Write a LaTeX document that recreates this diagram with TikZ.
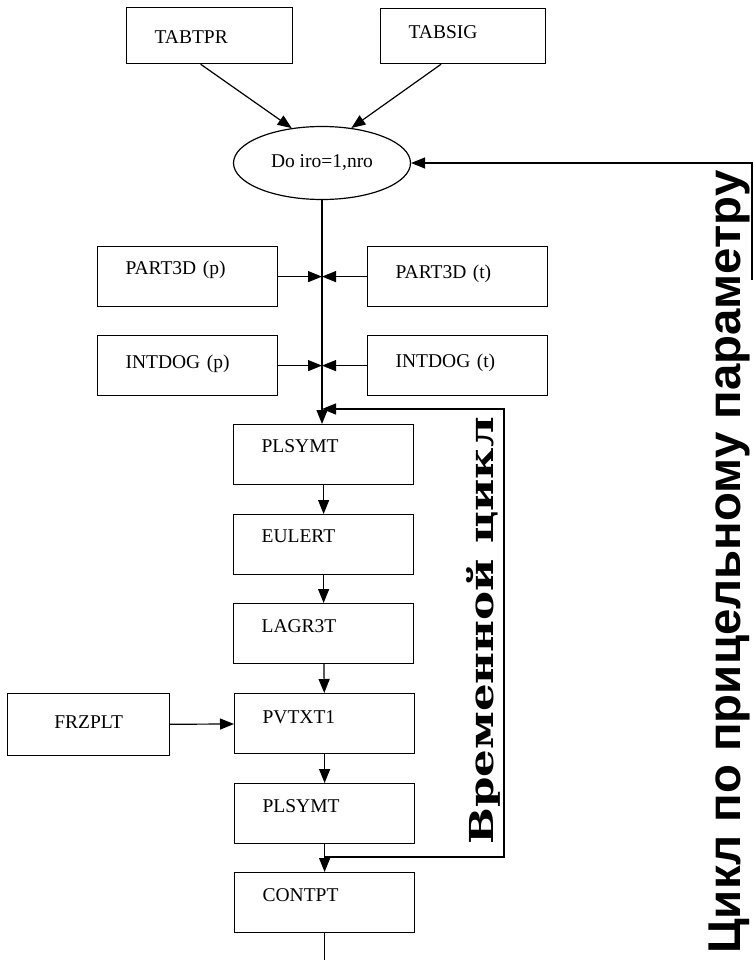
\documentclass[tikz,border=0pt]{standalone}
\usepackage{fontspec}
\setmainfont{Liberation Serif}
\newfontfamily\schemeLoopFont{DejaVu Serif}
\newfontfamily\schemeOuterFont{Liberation Sans}
\usetikzlibrary{arrows.meta,shapes.geometric}
\newcommand{\schemeBoxFont}{\fontsize{19.5}{22}\selectfont}

\tikzset{
  blk/.style={draw, line width=1.2pt, anchor=north west, minimum width=180pt,
    text width=124pt, inner xsep=28pt, inner ysep=0pt, align=left,
    text height=29pt, text depth=31pt, font=\schemeBoxFont},
  arr/.style={line width=1.2pt, -{Triangle[length=14pt,width=11pt]}},
  lnk/.style={line width=1.2pt}
}

\begin{document}
\begin{tikzpicture}[x=1pt,y=-1pt]
\useasboundingbox (0,0) rectangle (754,960);
\node[blk, minimum width=166pt, text width=110pt, text height=36pt, text depth=20pt] (tabtpr) at (126,7) {TABTPR};
\node[blk, minimum width=165pt, text width=109pt, text height=30pt, text depth=25pt] (tabsig) at (380,8) {TABSIG};
\node[draw, ellipse, line width=1.2pt, minimum width=177pt, minimum height=73pt, inner sep=0pt, font=\schemeBoxFont] (doloop) at (322,163) {Do iro=1,nro};
\node[blk, text height=28pt, text depth=32pt] (part3dp) at (97,246) {PART3D (p)};
\node[blk, text height=32pt, text depth=28pt] (part3dt) at (367,246) {PART3D (t)};
\node[blk, text height=33pt, text depth=27pt] (intdogp) at (97,335) {INTDOG (p)};
\node[blk, text height=32pt, text depth=28pt] (intdogt) at (367,335) {INTDOG (t)};
\node[blk, text height=28pt, text depth=32pt] (plsymta) at (233,424) {PLSYMT};
\node[blk, text height=28pt, text depth=32pt] (eulert) at (233,514) {EULERT};
\node[blk] (lagr3t) at (233,603) {LAGR3T};
\node[blk, text height=30pt, text depth=30pt] (pvtxt1) at (234,693) {PVTXT1};
\node[blk, minimum width=162pt, text width=106pt, align=center, text height=35pt, text depth=27pt] (frzplt) at (7,693) {FRZPLT};
\node[blk] (plsymtb) at (234,783) {PLSYMT};
\node[blk] (contpt) at (234,872) {CONTPT};
\node[rotate=90, anchor=base, font=\schemeLoopFont\bfseries\fontsize{33}{36}\selectfont] (timeloop) at (493,631) {\scalebox{1.32}[1]{Временной цикл}};
\node[rotate=90, anchor=base, font=\schemeOuterFont\bfseries\fontsize{46}{50}\selectfont] (iroloop) at (740,562) {\scalebox{1.03}[1]{Цикл по прицельному параметру}};
\coordinate (trunk) at (322,0);
\coordinate (tbot) at (504,857);
\coordinate (ttop) at (504,409);
\coordinate (oend) at (752,280);
\coordinate (bottomend) at (324,960);
\draw[arr] ([xshift=-9pt]tabtpr.south) -- (doloop.131);
\draw[arr] ([xshift=-22pt]tabsig.south) -- (doloop.50);
\draw[arr] (doloop.south) -- (doloop.south |- plsymta.north);
\draw[arr] (part3dp.east) -- (part3dp.east -| trunk);
\draw[arr] (part3dt.west) -- (part3dt.west -| trunk);
\draw[arr] (intdogp.east) -- (intdogp.east -| trunk);
\draw[arr] (intdogt.west) -- (intdogt.west -| trunk);
\draw[arr] (plsymta) -- (eulert);
\draw[arr] (eulert) -- (lagr3t);
\draw[arr] (lagr3t) -- (pvtxt1);
\draw[arr] (frzplt) -- (pvtxt1);
\draw[arr] (pvtxt1) -- (plsymtb);
\draw[arr] (plsymtb) -- (contpt);
\draw[lnk] (contpt.south) -- (contpt.south |- bottomend);
\draw[arr] (plsymtb.south |- tbot) -- (tbot) -- (ttop) -- (ttop -| trunk);
\draw[arr] (oend) |- (doloop.east);
\end{tikzpicture}
\end{document}
